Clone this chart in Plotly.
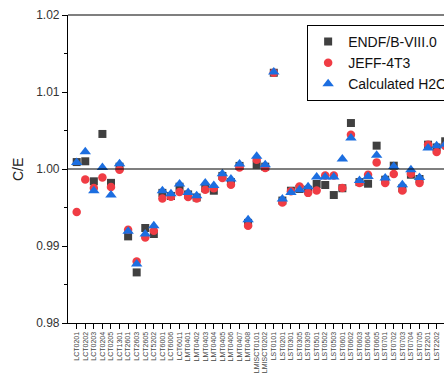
import plotly.graph_objects as go

categories = ["LCT0201", "LCT0202", "LCT0203", "LCT0204", "LCT0205", "LCT1301", "LCT2601",
              "LCT2603", "LCT2605", "LCT5202", "LCT6001", "LCT6006", "LCT6011",
              "LMT0401", "LMT0402", "LMT0403", "LMT0404", "LMT0405", "LMT0406", "LMT0407", "LMT0408",
              "LMISCT0101", "LMISCT0202",
              "LST0101", "LST0201", "LST0301", "LST0305", "LST0309",
              "LST0501", "LST0502", "LST0503",
              "LST0601", "LST0602", "LST0603", "LST0604", "LST0605",
              "LST0701", "LST0702", "LST0703", "LST0704", "LST0705",
              "LST2201", "LST2202", "LST2203"]

endf = [1.0009, 1.0010, 0.9984, 1.00455, 0.9982, 1.0003, 0.99125, 0.98657, 0.99234, 0.99156,
        0.9969, 0.9965, 0.9977,
        0.9967, 0.9963, 0.9975, 0.99718, 0.9991, 0.9983, 1.0004, 0.9930,
        1.00056, 1.0003,
        1.0125, 0.9959, 0.99718, 0.9974, 0.9973,
        0.99805, 0.99792, 0.99662,
        0.9975, 1.00597, 0.9983, 0.99809, 1.00303,
        0.99861, 1.00043, 0.9975, 0.99926, 0.9987,
        1.00316, 1.0028, 1.0036]

jeff = [0.99442, 0.99865, 0.99753, 0.99891, 0.99766, 0.99991, 0.99212, 0.98800, 0.99112, 0.99199,
        0.99618, 0.99640, 0.99701,
        0.99636, 0.99618, 0.99731, 0.9975, 0.99883, 0.99796, 1.00021, 0.99264,
        1.00121, 1.00013,
        1.0125, 0.99566, 0.9971, 0.99774, 0.9969,
        0.99722, 0.99917, 0.99917,
        0.99753, 1.00445, 0.99818, 0.99926, 1.00086,
        0.99818, 0.99935, 0.99722, 0.99939, 0.99818,
        1.00316, 1.00221, 1.0030]

h2o = [1.00086, 1.00225, 0.99718, 1.00021, 0.99662, 1.00069, 0.99190, 0.98766, 0.99156, 0.99264,
       0.99718, 0.99679, 0.99805,
       0.99696, 0.99653, 0.99818, 0.99787, 0.99939, 0.99870, 1.00065, 0.99342,
       1.00164, 1.00056,
       1.0126, 0.9961, 0.99696, 0.99731, 0.9977,
       0.99896, 0.99896, 0.99896,
       1.0013, 1.00403, 0.99852, 0.99904, 1.00177,
       0.99883, 1.00034, 0.99796, 0.99991, 0.99891,
       1.00273, 1.00303, 1.0032]

y_ticks = [0.98, 0.99, 1.00, 1.01, 1.02]
y_ticktext = ["0.98", "0.99", "1.00", "1.01", "1.02"]

x = list(range(len(categories)))

fig = go.Figure()
fig.add_trace(go.Scatter(x=x, y=endf, mode="markers", name="ENDF/B-VIII.0",
                         marker=dict(symbol="square", size=8, color="#404040")))
fig.add_trace(go.Scatter(x=x, y=jeff, mode="markers", name="JEFF-4T3",
                         marker=dict(symbol="circle", size=8.5, color="#f03c44")))
fig.add_trace(go.Scatter(x=x, y=h2o, mode="markers", name="Calculated H2O",
                         marker=dict(symbol="triangle-up", size=10, color="#1c6ee0")))

fig.add_shape(type="line", xref="paper", x0=0, x1=1, yref="y", y0=1.0, y1=1.0,
              line=dict(color="black", width=1.2))
fig.add_shape(type="line", xref="paper", x0=0, x1=1, yref="paper", y0=1, y1=1,
              line=dict(color="black", width=1.2))

fig.add_annotation(text="C/E", xref="paper", yref="paper", x=-0.133, y=0.5,
                   textangle=-90, showarrow=False, font=dict(size=14, color="#222"),
                   xanchor="center", yanchor="middle")

fig.update_layout(
    width=444, height=376,
    margin=dict(l=68, r=0, t=15, b=53, autoexpand=False),
    paper_bgcolor="white", plot_bgcolor="white",
    font=dict(family="Liberation Sans, Arial, sans-serif", color="#222"),
    showlegend=True,
    legend=dict(x=0.636, y=0.968, xanchor="left", yanchor="top",
                bordercolor="black", borderwidth=1, bgcolor="white",
                font=dict(size=14, color="#111"), tracegroupgap=0),
    xaxis=dict(range=[-1.015, 42.86], tickmode="array", tickvals=x, ticktext=categories,
               tickangle=-90, tickfont=dict(size=7, color="#444"),
               showline=True, linecolor="black", linewidth=1.2,
               ticks="outside", ticklen=5, tickcolor="black", showgrid=False, zeroline=False),
    yaxis=dict(range=[0.98, 1.02], tickmode="array", tickvals=y_ticks, ticktext=y_ticktext,
               tickfont=dict(size=12, color="#333"),
               showline=True, linecolor="black", linewidth=1.2,
               ticks="outside", ticklen=5, tickcolor="black", showgrid=False, zeroline=False,
               minor=dict(tickmode="linear", tick0=0.98, dtick=0.005, ticks="outside",
                          ticklen=3, tickcolor="black", showgrid=False)),
)

fig.write_html("out.html", config={"displayModeBar": False},
               post_script="document.body.style.margin='0';document.body.style.overflow='hidden';")
